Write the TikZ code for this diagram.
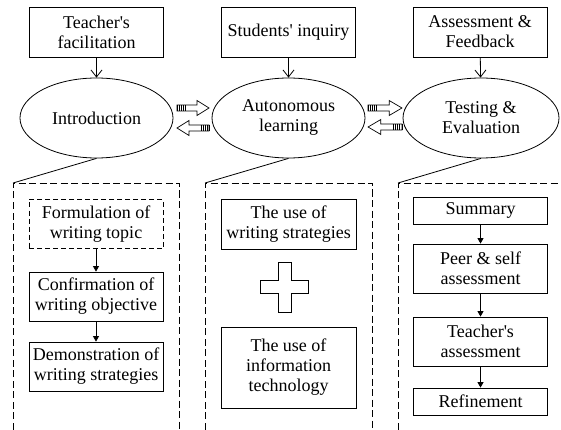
\documentclass[tikz,border=0pt]{standalone}
\usepackage{fontspec}
\setmainfont{Liberation Serif}
\usepackage{tikz}
\usetikzlibrary{shapes.geometric, arrows.meta, positioning}

\begin{document}
\begin{tikzpicture}[
  x=1pt, y=-1pt, line width=0.8pt,
  font=\fontsize{18}{20}\selectfont,
  topbox/.style={rectangle, draw, minimum width=134pt, minimum height=50pt, align=center, inner sep=1pt},
  phase/.style={ellipse, draw, minimum width=153pt, minimum height=80pt, align=center, inner sep=0pt},
  stepbox/.style={rectangle, draw, minimum width=134pt, minimum height=49pt, align=center, inner sep=1pt},
  panel/.style={draw, dash pattern=on 7pt off 3.5pt},
  feed/.style={-{Straight Barb[length=7pt,width=11pt]}},
  flow/.style={-{Triangle[length=5.5pt,width=6pt]}}
]
  \useasboundingbox (0,0) rectangle (561,430);
  \clip (0,0) rectangle (561,430);

  % top row
  \node[topbox] (teach) at (96.5,32) {Teacher\textquotesingle s\\facilitation};
  \node[topbox] (inquiry) at (288.5,32) {Students\textquotesingle\ inquiry};
  \node[topbox] (assess) at (480,32) {Assessment \&\\Feedback};

  \node[phase] (intro) at (96.5,118) {Introduction};
  \node[phase] (auto) at (288.5,118) {Autonomous\\learning};
  \node[phase, minimum width=156pt] (test) at (481,118) {Testing \&\\Evaluation};

  \draw[feed] (teach) -- (intro);
  \draw[feed] (inquiry) -- (auto);
  \draw[feed] (assess) -- (test);

  % block arrows between phases
  \foreach \tx/\s/\y in {177/1/108, 209/-1/128, 368/1.06/108, 402/-1.06/127}{
    \begin{scope}[shift={(\tx,\y)}, xscale=\s]
      \draw[line width=0.7pt] (0,-3) -- (20,-3) -- (20,-7.5) -- (32,0) -- (20,7.5) -- (20,3) -- (0,3) -- cycle;
      \foreach \i in {0,2,...,8}
        \draw[line width=0.9pt] (\i,-3) -- (\i,3);
    \end{scope}
  }

  % dashed panels
  \coordinate (p1) at (13,183);
  \coordinate (p2) at (205,183);
  \coordinate (p3) at (398,183);
  \draw (intro.south) -- (p1);
  \draw (auto.south) -- (p2);
  \draw (test.south) -- (p3);
  \draw[panel] (13,440) -- (p1) -- (179,183) -- (179,440);
  \draw[panel] (205,440) -- (p2) -- (372,183) -- (372,440);
  \draw[panel] (398,440) -- (p3) -- (580,183) -- (580,440);

  % introduction steps
  \node[stepbox, dash pattern=on 5pt off 3pt] (topic) at (96,224) {Formulation of\\writing topic};
  \node[stepbox] (objective) at (96,296.5) {Confirmation of\\writing objective};
  \node[stepbox] (demo) at (96,366.5) {Demonstration of\\writing strategies};
  \draw[flow] (topic) -- (objective);
  \draw[flow] (objective) -- (demo);

  % autonomous learning
  \node[stepbox, minimum width=135pt, minimum height=50pt] (strat) at (288.5,224) {The use of\\writing strategies};
  \node[stepbox, minimum width=135pt, minimum height=81pt] (tech) at (288.5,367.5) {The use of\\information\\technology};
  \draw[shift={(284.5,287)}] (-6.5,-25) -- (6.5,-25) -- (6.5,-6.5) -- (24,-6.5) -- (24,6.5) -- (6.5,6.5) -- (6.5,25) -- (-6.5,25) -- (-6.5,6.5) -- (-24,6.5) -- (-24,-6.5) -- (-6.5,-6.5) -- cycle;

  % testing steps
  \node[stepbox, minimum height=27pt] (summ) at (480.5,210.5) {Summary};
  \node[stepbox] (peer) at (480.5,268.5) {Peer \& self\\assessment};
  \node[stepbox] (tassess) at (480.5,341.5) {Teacher\textquotesingle s\\assessment};
  \node[stepbox, minimum height=27pt] (refine) at (480.5,401.5) {Refinement};
  \draw[flow] (summ) -- (peer);
  \draw[flow] (peer) -- (tassess);
  \draw[flow] (tassess) -- (refine);
\end{tikzpicture}
\end{document}
